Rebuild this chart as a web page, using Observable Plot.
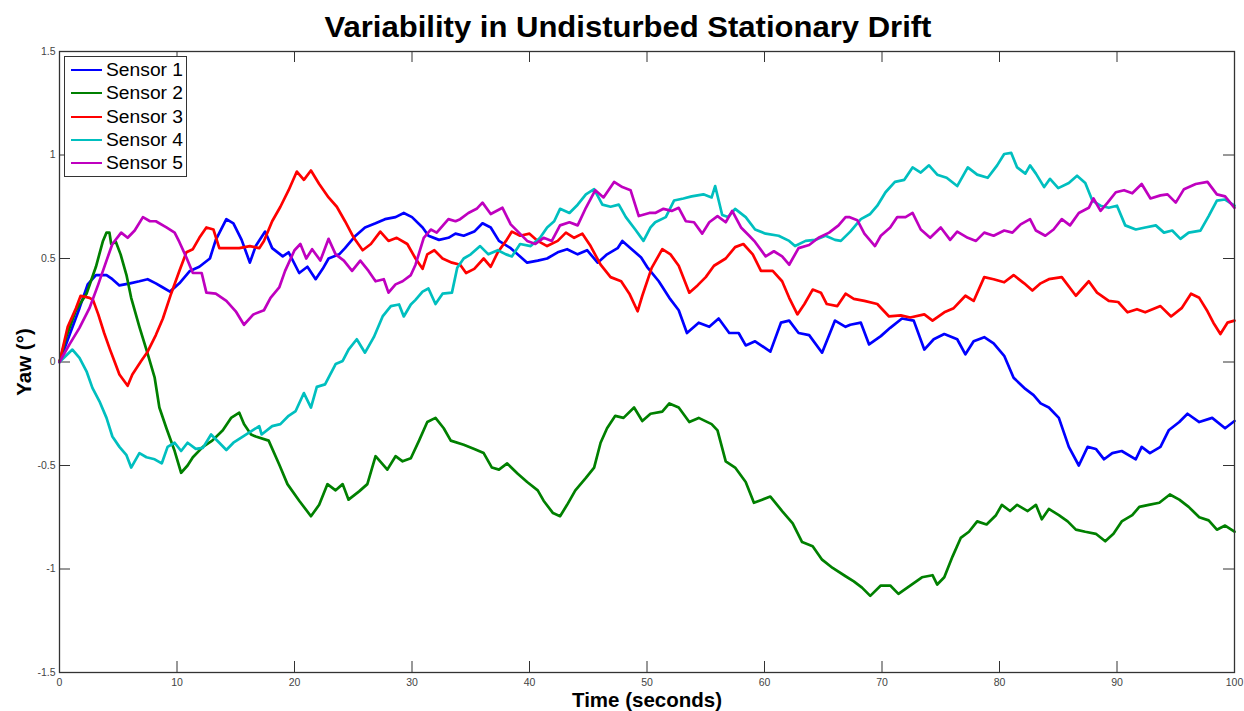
<!DOCTYPE html>
<html>
<head>
<meta charset="utf-8">
<script src="https://cdn.jsdelivr.net/npm/d3@7"></script>
<script src="https://cdn.jsdelivr.net/npm/@observablehq/plot@0.6"></script>
<style>
  body { margin: 0; background: #fff; font-family: "Liberation Sans", Arial, sans-serif; }
  #wrap { position: relative; width: 1244px; height: 711px; }
  #titlebar { height: 40px; width: 1244px; position: relative; }
  #title { position: absolute; left: 628px; top: 27px; transform: translate(-50%, -50%) scaleX(1.07);
           white-space: nowrap; font-weight: bold; font-size: 29px; line-height: 1; color: #000; }
  #legend { position: absolute; left: 64px; top: 56px; width: 121px; height: 119px; border: 1px solid #333;
            background: #fff; box-sizing: content-box; }
  .item { position: absolute; left: 6px; height: 24px; display: flex; align-items: center; font-size: 17.5px; color: #000; white-space: nowrap; }
  .item span.sw { display: inline-block; width: 31px; height: 2px; margin-right: 4px; }
  .item span.tx { display: inline-block; transform: scaleX(1.1); transform-origin: left center; }
</style>
</head>
<body>
<div id="wrap">
  <div id="titlebar"><div id="title">Variability in Undisturbed Stationary Drift</div></div>
  <div id="chart"></div>
  <div id="legend"></div>
</div>
<script>
const sensorNames = ["Sensor 1", "Sensor 2", "Sensor 3", "Sensor 4", "Sensor 5"];
const sensorColors = ["#0000ff", "#008000", "#ff0000", "#00bfbf", "#bf00bf"];
const xTicks = [0, 10, 20, 30, 40, 50, 60, 70, 80, 90, 100];
const yTicks = [-1.5, -1, -0.5, 0, 0.5, 1, 1.5];
const xLabel = "Time (seconds)";
const yLabel = "Yaw (°)";

// [time (s), yaw (deg)]
const sensor1 = [[0,0],[0.85,0.13],[1.7,0.26],[2.4,0.375],[3.1,0.42],[4,0.42],[4.5,0.40],[5.1,0.37],[6,0.38],[6.8,0.39],[7.5,0.40],[8.2,0.38],[8.8,0.36],[9.4,0.34],[10.2,0.38],[11.1,0.44],[11.9,0.46],[12.8,0.5],[13.3,0.59],[14.2,0.69],[14.8,0.67],[15.5,0.59],[16.2,0.48],[16.7,0.56],[17.5,0.63],[18.1,0.55],[19,0.51],[19.5,0.53],[20.4,0.43],[21.1,0.46],[21.8,0.40],[22.4,0.45],[22.9,0.50],[23.8,0.52],[24.3,0.55],[25.2,0.61],[26,0.65],[26.9,0.67],[27.7,0.69],[28.6,0.70],[29.3,0.72],[30.0,0.70],[30.9,0.65],[31.4,0.61],[32.3,0.59],[33.1,0.60],[33.7,0.62],[34.4,0.61],[35.3,0.63],[36,0.67],[36.7,0.65],[37.4,0.585],[38.4,0.55],[39.2,0.51],[39.8,0.48],[40.7,0.49],[41.5,0.50],[42.4,0.53],[43.2,0.545],[44.1,0.52],[44.9,0.54],[45.8,0.48],[46.6,0.52],[47.5,0.55],[47.9,0.585],[48.6,0.55],[49.5,0.505],[50,0.46],[51,0.39],[51.9,0.31],[52.7,0.25],[53.4,0.14],[54.4,0.19],[55.3,0.17],[56.1,0.21],[57,0.14],[57.8,0.14],[58.4,0.08],[59.2,0.10],[60.5,0.05],[61.4,0.19],[62.1,0.20],[62.9,0.14],[63.8,0.13],[64.9,0.045],[66,0.2],[66.9,0.17],[67.3,0.18],[68.2,0.19],[68.9,0.085],[69.9,0.125],[70.7,0.165],[71.7,0.21],[72.7,0.2],[73.6,0.06],[74.4,0.11],[75.3,0.135],[76.4,0.11],[77.1,0.037],[77.8,0.10],[78.7,0.12],[79.5,0.09],[80.4,0.03],[81.2,-0.076],[82.2,-0.13],[82.9,-0.16],[83.5,-0.2],[84.2,-0.22],[85.05,-0.27],[85.9,-0.41],[86.75,-0.50],[87.5,-0.41],[88.2,-0.42],[88.9,-0.47],[89.6,-0.44],[90.4,-0.43],[91.6,-0.47],[92.1,-0.41],[92.8,-0.44],[93.7,-0.41],[94.4,-0.33],[95.3,-0.29],[96,-0.25],[97,-0.29],[98.1,-0.27],[99.2,-0.32],[100,-0.285]];
const sensor2 = [[0,0],[0.57,0.12],[1.4,0.25],[2.3,0.33],[3.1,0.46],[3.7,0.585],[4,0.625],[4.25,0.625],[4.4,0.57],[4.8,0.58],[5.2,0.52],[5.7,0.42],[6.1,0.31],[6.8,0.17],[7.5,0.04],[8.1,-0.076],[8.5,-0.22],[9.1,-0.32],[9.8,-0.43],[10.35,-0.535],[10.9,-0.50],[11.35,-0.46],[12.2,-0.41],[13.0,-0.38],[13.9,-0.33],[14.6,-0.27],[15.3,-0.245],[15.7,-0.30],[16.3,-0.35],[16.7,-0.36],[17.8,-0.38],[18.7,-0.495],[19.4,-0.59],[20.4,-0.67],[21.4,-0.745],[22.1,-0.69],[22.8,-0.59],[23.5,-0.62],[24.1,-0.59],[24.6,-0.665],[25.5,-0.625],[26.2,-0.59],[26.9,-0.455],[27.9,-0.52],[28.6,-0.455],[29.2,-0.48],[29.9,-0.465],[30.6,-0.38],[31.3,-0.29],[32,-0.27],[32.7,-0.32],[33.3,-0.38],[34.4,-0.40],[35.3,-0.42],[36.1,-0.44],[36.8,-0.51],[37.4,-0.52],[38.1,-0.49],[39,-0.54],[39.8,-0.58],[40.7,-0.62],[41.2,-0.67],[42,-0.73],[42.6,-0.745],[43.2,-0.69],[43.9,-0.62],[44.8,-0.56],[45.5,-0.51],[46.05,-0.39],[46.6,-0.32],[47.3,-0.26],[48,-0.27],[48.9,-0.22],[49.6,-0.285],[50.3,-0.25],[51.3,-0.24],[51.9,-0.20],[52.7,-0.22],[53.6,-0.29],[54.4,-0.27],[55.5,-0.30],[56,-0.33],[56.7,-0.48],[57.5,-0.51],[58.4,-0.58],[59.1,-0.68],[59.8,-0.665],[60.5,-0.65],[61.5,-0.72],[62.4,-0.78],[63.2,-0.87],[64.1,-0.89],[64.9,-0.955],[65.8,-0.995],[66.9,-1.035],[67.6,-1.06],[68.3,-1.09],[69,-1.13],[69.9,-1.08],[70.7,-1.08],[71.4,-1.12],[72.4,-1.08],[73.4,-1.04],[74.3,-1.03],[74.7,-1.075],[75.3,-1.04],[76,-0.94],[76.7,-0.85],[77.4,-0.82],[78.1,-0.77],[78.9,-0.785],[79.7,-0.74],[80.2,-0.69],[80.9,-0.72],[81.5,-0.69],[82.4,-0.72],[83.1,-0.69],[83.6,-0.76],[84.2,-0.71],[85.05,-0.74],[85.8,-0.77],[86.5,-0.81],[87.3,-0.82],[88.2,-0.83],[89,-0.866],[89.7,-0.83],[90.4,-0.77],[91.3,-0.74],[91.9,-0.70],[92.7,-0.69],[93.6,-0.68],[94.5,-0.64],[95.3,-0.665],[96.1,-0.70],[97,-0.75],[97.8,-0.765],[98.5,-0.81],[99.2,-0.79],[100,-0.82]];
const sensor3 = [[0,0],[0.7,0.17],[1.4,0.26],[1.8,0.32],[2.55,0.31],[2.85,0.30],[3.3,0.23],[3.8,0.14],[4.3,0.06],[4.7,0],[5.1,-0.06],[5.8,-0.115],[6.2,-0.06],[6.95,0.005],[7.5,0.05],[8.2,0.13],[8.8,0.21],[9.5,0.33],[10.2,0.44],[10.8,0.53],[11.35,0.545],[11.9,0.60],[12.5,0.65],[13.1,0.64],[13.6,0.55],[14.5,0.55],[15.3,0.55],[16.2,0.56],[17,0.55],[17.4,0.585],[18.1,0.68],[18.8,0.75],[19.5,0.83],[20.2,0.92],[20.8,0.88],[21.4,0.925],[22.1,0.86],[22.9,0.795],[23.6,0.75],[24.3,0.68],[25.05,0.60],[25.8,0.54],[26.5,0.57],[27.3,0.63],[28,0.585],[28.7,0.60],[29.6,0.57],[30.3,0.50],[30.9,0.45],[31.3,0.52],[31.9,0.54],[32.6,0.50],[33.4,0.48],[34.1,0.47],[34.6,0.43],[35.3,0.45],[36.1,0.50],[36.7,0.46],[37.3,0.53],[38,0.585],[38.5,0.63],[39.2,0.61],[40,0.62],[40.7,0.585],[41.5,0.56],[42.4,0.585],[43.1,0.625],[43.8,0.60],[44.5,0.62],[45.2,0.56],[46.05,0.47],[46.9,0.41],[47.8,0.39],[48.5,0.33],[49.2,0.245],[49.6,0.32],[50.4,0.455],[51.3,0.545],[52,0.52],[52.7,0.465],[53.6,0.335],[54.3,0.37],[55,0.41],[55.7,0.465],[56.7,0.50],[57.5,0.555],[58.2,0.57],[59,0.52],[59.7,0.44],[60.7,0.44],[61.5,0.39],[62.1,0.31],[62.8,0.23],[63.4,0.28],[64.1,0.35],[64.8,0.335],[65.3,0.28],[66.2,0.27],[66.9,0.33],[67.6,0.305],[68.5,0.295],[69.6,0.28],[70.6,0.22],[71.6,0.225],[72.4,0.215],[73.6,0.23],[74.3,0.20],[75.3,0.24],[76.1,0.26],[77.1,0.32],[77.8,0.295],[78.7,0.41],[79.5,0.40],[80.4,0.385],[81.2,0.42],[82.1,0.38],[82.8,0.345],[83.5,0.38],[84.2,0.40],[85.3,0.41],[86.5,0.32],[87.6,0.39],[88.3,0.335],[89.3,0.295],[90.1,0.29],[90.9,0.24],[91.7,0.255],[92.4,0.24],[93.7,0.27],[94.6,0.22],[95.5,0.26],[96.3,0.33],[97,0.31],[97.7,0.245],[98.2,0.19],[98.8,0.135],[99.4,0.19],[100,0.2]];
const sensor4 = [[0,0],[1.1,0.06],[1.7,0.02],[2.3,-0.045],[2.8,-0.125],[3.4,-0.19],[4,-0.27],[4.5,-0.36],[5.1,-0.41],[5.7,-0.45],[6.1,-0.51],[6.8,-0.44],[7.4,-0.46],[8.1,-0.47],[8.7,-0.49],[9.2,-0.41],[9.8,-0.39],[10.35,-0.43],[10.9,-0.39],[11.6,-0.42],[12.2,-0.415],[12.9,-0.35],[13.6,-0.39],[14.2,-0.425],[14.8,-0.39],[15.6,-0.36],[16.3,-0.335],[17,-0.31],[17.2,-0.35],[18.1,-0.31],[18.8,-0.30],[19.5,-0.26],[20.1,-0.237],[20.8,-0.15],[21.4,-0.22],[21.9,-0.12],[22.6,-0.108],[23.5,-0.01],[24.1,0.005],[24.6,0.06],[25.3,0.11],[26,0.045],[26.75,0.12],[27.5,0.22],[28.2,0.27],[28.9,0.278],[29.3,0.22],[29.9,0.278],[30.3,0.30],[30.9,0.34],[31.4,0.355],[32,0.28],[32.6,0.33],[33.4,0.335],[33.85,0.455],[34.4,0.50],[35,0.52],[35.8,0.56],[36.5,0.52],[37.3,0.54],[38,0.52],[38.5,0.51],[39.2,0.57],[40.1,0.56],[40.9,0.60],[41.5,0.65],[42.1,0.68],[42.6,0.74],[43.4,0.72],[44.1,0.76],[44.8,0.81],[45.5,0.835],[46.2,0.76],[46.9,0.75],[47.6,0.76],[48.2,0.70],[49,0.64],[49.7,0.585],[50.3,0.65],[50.7,0.675],[51.6,0.70],[52.3,0.78],[53.1,0.79],[53.8,0.80],[54.8,0.81],[55.5,0.795],[55.8,0.85],[56.4,0.71],[56.9,0.70],[57.5,0.74],[58.4,0.70],[59.2,0.64],[60.1,0.62],[61.2,0.61],[62.1,0.585],[62.6,0.56],[63.5,0.585],[64.3,0.59],[65.2,0.61],[66,0.59],[66.5,0.585],[67.3,0.63],[68.2,0.69],[69,0.715],[69.6,0.755],[70.3,0.82],[71.1,0.87],[71.9,0.88],[72.6,0.94],[73.3,0.915],[74,0.95],[74.7,0.905],[75.5,0.89],[76.4,0.85],[77.3,0.94],[78.1,0.905],[79,0.89],[79.8,0.95],[80.4,1.005],[81,1.01],[81.5,0.94],[82.2,0.91],[82.6,0.95],[83.1,0.91],[83.8,0.845],[84.3,0.885],[85,0.84],[85.9,0.865],[86.6,0.90],[87.3,0.865],[87.9,0.78],[88.6,0.755],[89.3,0.745],[90,0.755],[90.7,0.66],[91.6,0.64],[92.4,0.65],[93.3,0.66],[94,0.625],[94.7,0.635],[95.4,0.595],[96.1,0.625],[97.1,0.635],[97.8,0.705],[98.5,0.78],[99.2,0.785],[100,0.755]];
const sensor5 = [[0,0],[0.85,0.085],[1.7,0.165],[2.55,0.26],[3.3,0.375],[4,0.49],[4.5,0.57],[5.25,0.625],[5.8,0.60],[6.4,0.635],[7.1,0.70],[7.7,0.68],[8.2,0.68],[9.1,0.65],[9.8,0.625],[10.2,0.58],[10.8,0.505],[11.35,0.43],[12.1,0.43],[12.5,0.335],[13.3,0.33],[14.2,0.295],[15,0.245],[15.7,0.18],[16.5,0.23],[17.4,0.25],[17.96,0.31],[18.7,0.36],[19.2,0.44],[20,0.54],[20.5,0.57],[21,0.50],[21.5,0.545],[22.2,0.49],[22.9,0.595],[23.5,0.52],[24.2,0.49],[24.9,0.44],[25.6,0.49],[26.3,0.44],[26.9,0.39],[27.6,0.40],[28,0.335],[28.6,0.375],[29.2,0.39],[29.9,0.42],[30.3,0.47],[31,0.60],[31.6,0.64],[32.1,0.625],[33.1,0.69],[33.7,0.68],[34.1,0.69],[34.8,0.72],[35.5,0.74],[36,0.77],[36.7,0.715],[37.7,0.745],[38.4,0.665],[39.1,0.625],[39.8,0.585],[40.5,0.57],[41.2,0.60],[41.9,0.585],[42.6,0.66],[43.4,0.675],[44.1,0.66],[44.8,0.745],[45.6,0.83],[46.3,0.795],[47.2,0.87],[47.9,0.845],[48.6,0.83],[49.3,0.705],[50.2,0.72],[50.7,0.72],[51.4,0.74],[52.1,0.73],[52.7,0.745],[53.3,0.68],[54,0.675],[54.7,0.62],[55.3,0.675],[56,0.705],[56.7,0.675],[57.25,0.73],[58,0.65],[58.7,0.61],[59.2,0.58],[60.1,0.51],[60.8,0.535],[61.5,0.51],[62.1,0.47],[62.9,0.55],[63.8,0.565],[64.6,0.60],[65.5,0.625],[66.3,0.66],[66.9,0.70],[67.2,0.70],[67.9,0.685],[68.5,0.62],[69.4,0.56],[69.9,0.61],[70.7,0.65],[71.3,0.70],[72,0.70],[72.6,0.72],[73.3,0.64],[74.1,0.60],[75,0.65],[75.8,0.59],[76.4,0.63],[77.3,0.60],[78,0.585],[78.7,0.625],[79.5,0.61],[80.4,0.635],[81.1,0.625],[81.8,0.665],[82.6,0.69],[83.1,0.635],[83.9,0.61],[84.6,0.64],[85.3,0.69],[86,0.66],[86.75,0.72],[87.6,0.745],[88,0.79],[88.6,0.73],[89.2,0.77],[89.9,0.82],[90.6,0.83],[91.3,0.815],[92.1,0.86],[92.85,0.79],[93.7,0.805],[94.3,0.81],[95,0.77],[95.7,0.835],[96.7,0.86],[97.7,0.87],[98.5,0.81],[99.2,0.80],[100,0.745]];

const series = [sensor1, sensor2, sensor3, sensor4, sensor5];
const data = series.flatMap((arr, i) => arr.map(([t, v]) => ({sensor: sensorNames[i], t, v})));

const W = 1244, H = 671;
const mT = 11, mB = 39, mL = 59, mR = 10;
const innerW = W - mL - mR, innerH = H - mT - mB;
const tick = 11;
const axisColor = "#333";

const chart = Plot.plot({
  width: W, height: H,
  marginTop: mT, marginBottom: mB, marginLeft: mL, marginRight: mR,
  style: {fontFamily: "'Liberation Sans', Arial, sans-serif", background: "#fff"},
  x: {domain: [0, 100]},
  y: {domain: [-1.5, 1.5]},
  color: {domain: sensorNames, range: sensorColors},
  marks: [
    Plot.ruleX(xTicks, {x: d => d, insetTop: innerH - tick, stroke: axisColor, strokeWidth: 1}),
    Plot.ruleX(xTicks, {x: d => d, insetBottom: innerH - tick, stroke: axisColor, strokeWidth: 1}),
    Plot.ruleY(yTicks, {y: d => d, insetRight: innerW - tick, stroke: axisColor, strokeWidth: 1}),
    Plot.ruleY(yTicks, {y: d => d, insetLeft: innerW - tick, stroke: axisColor, strokeWidth: 1}),
    Plot.line(data, {x: "t", y: "v", z: "sensor", stroke: "sensor", strokeWidth: 2.7, strokeLinejoin: "round", curve: "linear"}),
    Plot.frame({stroke: axisColor, strokeWidth: 1.3}),
    Plot.axisX({ticks: xTicks, tickSize: 0, tickPadding: 6, tickFormat: d => String(d), fontSize: 10.5, color: "#444", label: null}),
    Plot.axisY({ticks: yTicks, tickSize: 0, tickPadding: 4, tickFormat: d => String(d), fontSize: 10.5, color: "#444", label: null}),
    Plot.text([xLabel], {frameAnchor: "bottom", lineAnchor: "middle", textAnchor: "middle", dy: 27.5, text: d => d, fontSize: 20.5, fontWeight: "bold", fill: "#000"}),
    Plot.text([yLabel], {frameAnchor: "left", lineAnchor: "middle", textAnchor: "middle", dx: -35, rotate: -90, text: d => d, fontSize: 20.5, fontWeight: "bold", fill: "#000"})
  ]
});
document.getElementById("chart").appendChild(chart);

const legend = document.getElementById("legend");
sensorNames.forEach((name, i) => {
  const item = document.createElement("div");
  item.className = "item";
  item.style.top = Math.round(1 + i * 23.3) + "px";
  const sw = document.createElement("span");
  sw.className = "sw";
  sw.style.background = sensorColors[i];
  const tx = document.createElement("span");
  tx.className = "tx";
  tx.textContent = name;
  item.appendChild(sw);
  item.appendChild(tx);
  legend.appendChild(item);
});
</script>
</body>
</html>
